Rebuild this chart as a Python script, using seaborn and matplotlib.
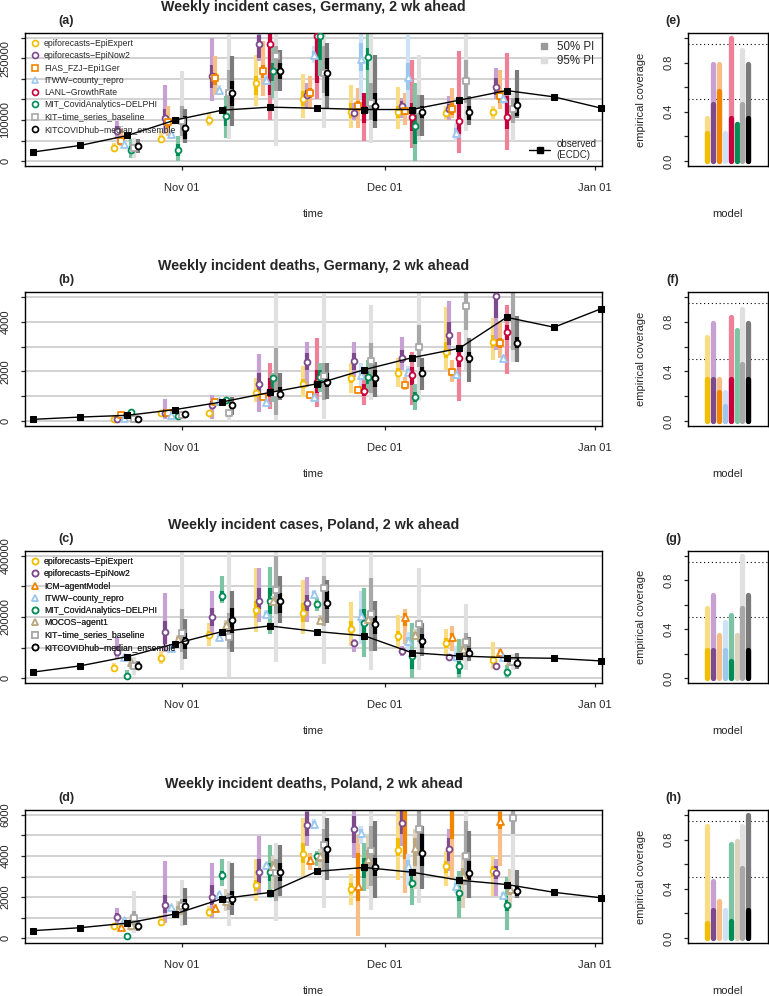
import numpy as np
import pandas as pd
import matplotlib
matplotlib.use("Agg")
import matplotlib.pyplot as plt
import matplotlib.dates as mdates
from matplotlib.lines import Line2D
import seaborn as sns

nan = np.nan

# Dates of observed weekly counts and of the forecast target weeks
obs_dates = pd.date_range("2020-10-10", "2021-01-02", freq="7D")
target_dates = pd.date_range("2020-10-24", "2020-12-19", freq="7D")

# Observed weekly incidence (ECDC)
obs_de_cases = [21900, 38000, 62400, 99700, 124000, 131300, 128800, 125600, 125600, 148300, 171800, 156400, 128800]
obs_de_deaths = [68, 160, 230, 460, 770, 1150, 1500, 2070, 2550, 2930, 4180, 3780, 4530]
obs_pl_cases = [19500, 40000, 70300, 112400, 152400, 170800, 152400, 138400, 83200, 72400, 67000, 64900, 56200]
obs_pl_deaths = [360, 505, 730, 1170, 1920, 2220, 3250, 3440, 3210, 2820, 2610, 2230, 1960]

models_de = ["epiforecasts−EpiExpert", "epiforecasts−EpiNow2", "FIAS_FZJ−Epi1Ger", "ITWW−county_repro",
             "LANL−GrowthRate", "MIT_CovidAnalytics−DELPHI", "KIT−time_series_baseline", "KITCOVIDhub−median_ensemble"]
models_pl = ["epiforecasts−EpiExpert", "epiforecasts−EpiNow2", "ICM−agentModel", "ITWW−county_repro",
             "MIT_CovidAnalytics−DELPHI", "MOCOS−agent1", "KIT−time_series_baseline", "KITCOVIDhub−median_ensemble"]

# Germany cases, thousands (rows = models_de, cols = target_dates)
de_cases_med = [[31, 54, 101, 190, 150, 120, 119, 117, 120],
                [73, 105, 207, 285, 162, 118, 135, 127, 181],
                [50, 95, 203, 219, 166, 135, 122, 128, 158],
                [42, 66, 173, 197, 259, 249, 204, 69, 154],
                [nan, nan, nan, 285, 305, 126, 108, 97, 107],
                [28, 26, 109, 219, 305, 253, 85, nan, nan],
                [32, 97, 166, 255, 215, 142, 122, 196, 126],
                [36, 81, 166, 219, 215, 134, 120, 119, 137]]
de_cases_lo50 = [[28, 50, 95, 162, 134, 105, 105, 110, 112],
                 [65, 87, 178, 251, 150, 110, 113, 118, 162],
                 [45, 81, 186, 203, 154, 122, 113, 113, 142],
                 [39, 62, 167, 191, 250, 219, 174, 61, 147],
                 [nan, nan, nan, 162, 190, 93, 73, 65, 77],
                 [20, 12, 85, 194, 247, 223, 41, nan, nan],
                 [24, 61, 126, 170, 166, 101, 61, 142, 93],
                 [27, 53, 134, 199, 158, 97, 105, 101, 109]]
de_cases_hi50 = [[36, 62, 108, 207, 170, 142, 135, 125, 128],
                 [85, 126, 235, 308, 174, 128, 146, 138, 203],
                 [57, 105, 215, 235, 178, 146, 134, 142, 174],
                 [46, 70, 179, 203, 268, 288, 239, 81, 161],
                 [nan, nan, nan, 330, 320, 166, 142, 150, 158],
                 [36, 41, 134, 239, 330, 276, 126, nan, nan],
                 [41, 134, 223, 280, 280, 190, 162, 247, 154],
                 [45, 109, 194, 239, 251, 166, 134, 134, 154]]
de_cases_lo95 = [[24, 45, 85, 134, 105, 81, 77, 101, 101],
                 [53, 65, 146, 243, 126, 101, 105, 101, 150],
                 [36, 61, 162, 158, 126, 81, 89, 105, 126],
                 [36, 58, 160, 185, 240, 150, 126, 49, 140],
                 [nan, nan, nan, 101, 150, 49, 32, 20, 28],
                 [8, 0, 57, 154, 207, 118, 0, nan, nan],
                 [8, 49, 53, 36, 81, 45, 49, 73, 49],
                 [20, 45, 85, 170, 126, 81, 61, 89, 105]]
de_cases_hi95 = [[45, 73, 118, 259, 211, 186, 181, 135, 134],
                 [97, 186, 300, 330, 190, 142, 154, 158, 227],
                 [77, 134, 255, 292, 207, 178, 166, 178, 223],
                 [50, 75, 185, 210, 280, 330, 308, 93, 168],
                 [nan, nan, nan, 340, 340, 166, 247, 267, 263],
                 [53, 61, 158, 284, 340, 330, 190, nan, nan],
                 [57, 219, 330, 330, 330, 330, 259, 312, 166],
                 [53, 126, 255, 271, 288, 259, 162, 158, 223]]

# Germany deaths
de_deaths_med = [[68, 320, 320, 1110, 1510, 1720, 1950, 2770, 3200],
                 [70, 320, 640, 1510, 2360, 2420, 2530, 3470, 5050],
                 [260, 320, 770, 970, 1040, 1240, 1470, 1990, 3130],
                 [120, 230, 800, 770, 970, 1850, 1990, 1890, 2550],
                 [nan, nan, nan, 1220, 1580, 1220, 1850, 2530, 3570],
                 [360, 190, 840, 1720, 1780, 1780, 970, nan, nan],
                 [70, 230, 320, 1080, 1810, 2420, 3000, 4620, 5500],
                 [95, 300, 640, 1080, 1580, 1720, 1950, 2530, 3160]]
de_deaths_lo50 = [[55, 300, 300, 1000, 1350, 1550, 1800, 2530, 2930],
                  [50, 230, 500, 1040, 2050, 2050, 2320, 3070, 4150],
                  [240, 300, 740, 930, 1000, 1180, 1390, 1850, 2950],
                  [100, 210, 770, 740, 940, 1700, 1900, 1800, 2480],
                  [nan, nan, nan, 970, 1110, 1000, 1450, 2190, 3270],
                  [330, 170, 800, 1240, 1380, 1500, 770, nan, nan],
                  [45, 200, 250, 230, 840, 1110, 2190, 3670, 2860],
                  [80, 270, 500, 970, 1380, 1380, 1780, 2320, 2930]]
de_deaths_hi50 = [[85, 345, 345, 1250, 1700, 1900, 2150, 3200, 3470],
                  [95, 500, 820, 1920, 2730, 2730, 2860, 4010, 5200],
                  [280, 345, 800, 1010, 1090, 1300, 1560, 2150, 3350],
                  [140, 255, 830, 800, 1010, 2050, 2100, 1990, 2620],
                  [nan, nan, nan, 1720, 2050, 1500, 2190, 2860, 3880],
                  [400, 215, 880, 1780, 2050, 2000, 1180, nan, nan],
                  [100, 270, 400, 2930, 2320, 3130, 3880, 5160, 5700],
                  [115, 330, 750, 1380, 1920, 2050, 2190, 2800, 3400]]
de_deaths_lo95 = [[40, 270, 270, 770, 970, 1110, 1380, 2050, 2460],
                  [30, 95, 95, 365, 1380, 1780, 2050, 2660, 2860],
                  [210, 270, 700, 880, 950, 1120, 1240, 1580, 2530],
                  [80, 190, 740, 700, 900, 1380, 1800, 1700, 2400],
                  [nan, nan, nan, 500, 570, 640, 640, 810, 1890],
                  [300, 150, 760, 770, 1180, 1180, 430, nan, nan],
                  [20, 150, 0, 30, 95, 840, 840, 2050, 2390],
                  [60, 230, 230, 840, 900, 970, 1240, 1580, 2390]]
de_deaths_hi95 = [[110, 380, 380, 1720, 2220, 2320, 2530, 4590, 4150],
                  [130, 905, 1040, 2700, 3200, 3200, 3380, 4850, 5400],
                  [310, 380, 850, 1080, 1150, 1380, 1780, 2460, 4050],
                  [170, 280, 870, 850, 1060, 2350, 2200, 2100, 2700],
                  [nan, nan, nan, 2350, 3340, 2050, 2800, 3600, 4690],
                  [430, 240, 920, 1920, 2320, 2460, 1510, nan, nan],
                  [150, 320, 430, 5400, 5100, 4690, 5400, 5400, 5400],
                  [150, 380, 970, 1920, 2320, 2390, 2530, 3340, 4220]]

# Poland cases, thousands (rows = models_pl)
pl_cases_med = [[33.5, 66, 142, 223, 214, 162, 138, 115, 59.5],
                [86.5, 152, 200, 254, 246, 114, 90, 68, 41],
                [nan, nan, nan, nan, nan, nan, 200, 133, 84],
                [68, 98, 136, 211, 276, 203, 122, 73.5, 68],
                [6.5, nan, 268, 254, 241, 182, 71, 41, 19.5],
                [52, 127, 174, 254, 190, 192, 142, 95, 57],
                [41, 149, 133, 290, 295, 209, 176, 117, 52],
                [41, 122, 189, 254, 246, 178, 122, 81, 50]]
pl_cases_lo50 = [[28, 58, 128, 198, 184, 144, 122, 100, 50],
                 [73, 111, 171, 225, 219, 104, 84, 64, 38],
                 [nan, nan, nan, nan, nan, nan, 171, 117, 78],
                 [64, 94, 131, 205, 268, 180, 110, 65, 64],
                 [3, nan, 252, 209, 230, 133, 30, 14, 10],
                 [42, 121, 167, 247, 183, 184, 134, 85, 51],
                 [30, 84, 95, 209, 171, 90, 117, 74, 40],
                 [30, 95, 149, 214, 225, 144, 100, 68, 41]]
pl_cases_hi50 = [[40, 75, 155, 252, 246, 187, 155, 130, 72],
                 [106, 187, 230, 295, 273, 122, 97, 73, 44],
                 [nan, nan, nan, nan, nan, nan, 214, 149, 90],
                 [72, 102, 141, 217, 284, 225, 135, 82, 72],
                 [12, nan, 284, 295, 252, 225, 90, 57, 30],
                 [60, 134, 181, 262, 198, 200, 150, 106, 64],
                 [52, 225, 214, 400, 333, 328, 187, 149, 65],
                 [52, 149, 230, 279, 284, 203, 144, 100, 68]]
pl_cases_lo95 = [[20, 46, 106, 151, 144, 106, 95, 74, 30],
                 [63, 84, 144, 184, 184, 84, 73, 60, 35],
                 [nan, nan, nan, nan, nan, nan, 111, 90, 68],
                 [60, 90, 126, 200, 262, 111, 86, 52, 60],
                 [0, nan, 246, 144, 219, 68, 0, 0, 0],
                 [30, 115, 160, 240, 175, 175, 125, 57, 45],
                 [9, 25, 3, 52, 46, 25, 25, 25, 25],
                 [25, 63, 86, 182, 182, 90, 73, 57, 30]]
pl_cases_hi95 = [[48, 90, 182, 360, 322, 249, 205, 160, 119],
                 [133, 279, 284, 360, 330, 128, 106, 79, 48],
                 [nan, nan, nan, nan, nan, nan, 227, 171, 95],
                 [76, 106, 146, 222, 290, 284, 151, 106, 76],
                 [25, nan, 333, 363, 263, 295, 179, 128, 43],
                 [68, 140, 190, 270, 205, 210, 160, 128, 70],
                 [68, 430, 430, 430, 430, 430, 360, 241, 79],
                 [57, 192, 284, 333, 322, 252, 182, 133, 81]]

# Poland deaths
pl_deaths_med = [[600, 780, 1260, 2610, 4100, 2400, 4290, 3510, 3260],
                 [1030, 1630, 2000, 3230, 5500, 5300, 5630, 4360, 3180],
                 [520, nan, 1470, nan, 3790, 2530, 6600, 6600, 5710],
                 [900, 1520, 2170, 3560, 5550, 5140, 3510, 2530, 2120],
                 [110, nan, 3070, 3230, 4000, 3420, 2690, 2200, 1630],
                 [650, 1390, 1790, 3510, 4000, 3830, 4400, 3020, 2370],
                 [980, 1550, 1880, 3180, 4520, 4240, 5300, 4000, 5840],
                 [570, 1550, 1920, 3230, 4360, 3440, 4160, 3150, 2280]]
pl_deaths_lo50 = [[560, 700, 1150, 2280, 3670, 2150, 4000, 3180, 3000],
                  [900, 1220, 1630, 2690, 4970, 4650, 5060, 3750, 2900],
                  [480, nan, 1400, nan, 3600, 1790, 3830, 4810, 5300],
                  [870, 1490, 2140, 3500, 5400, 4900, 3200, 2400, 2060],
                  [70, nan, 2850, 2770, 3800, 2940, 2450, 1790, 1300],
                  [500, 1200, 1600, 3200, 3700, 3400, 3510, 2600, 2100],
                  [650, 1200, 1390, 1790, 3260, 2530, 4000, 2610, 5060],
                  [480, 1300, 1630, 2770, 3670, 3020, 3510, 2850, 2040]]
pl_deaths_hi50 = [[650, 870, 1380, 2850, 4650, 2700, 4890, 3750, 3500],
                  [1200, 2120, 2610, 3830, 6120, 5950, 6200, 4890, 3500],
                  [570, nan, 1550, nan, 3950, 4160, 7000, 7000, 6120],
                  [930, 1560, 2210, 3620, 5700, 5300, 3800, 2700, 2180],
                  [170, nan, 3260, 3670, 4120, 3910, 3020, 2530, 2040],
                  [800, 1550, 2000, 3750, 4150, 4300, 4890, 3400, 2700],
                  [1300, 1900, 2200, 3830, 5300, 5460, 6500, 5710, 6500],
                  [700, 1880, 2280, 3670, 4890, 3910, 5060, 3750, 2530]]
pl_deaths_lo95 = [[500, 570, 980, 1790, 3020, 1630, 2850, 2530, 2040],
                  [730, 730, 980, 2200, 4490, 3910, 4490, 3260, 2040],
                  [420, nan, 1300, nan, 3340, 80, 2200, 2850, 3510],
                  [850, 1450, 2100, 3450, 5300, 4570, 2530, 2200, 2000],
                  [30, nan, 2530, 1960, 3510, 2280, 1630, 980, 410],
                  [330, 980, 1300, 2370, 3100, 2370, 2370, 1470, 1470],
                  [240, 570, 570, 820, 1470, 1390, 1710, 2040, 2530],
                  [330, 650, 1140, 2040, 2850, 1960, 2370, 1960, 1950]]
pl_deaths_hi95 = [[720, 1140, 1550, 3830, 5870, 3100, 6500, 4240, 4000],
                  [1470, 3750, 3640, 4970, 6500, 6500, 6500, 5300, 3830],
                  [620, nan, 1650, nan, 4160, 5060, 7000, 7000, 6500],
                  [950, 1600, 2250, 3680, 5790, 5460, 4080, 3020, 2250],
                  [250, nan, 3830, 4520, 4240, 4650, 3260, 3260, 2970],
                  [1060, 1790, 2370, 4000, 4320, 5060, 5300, 4160, 3380],
                  [2280, 2850, 3750, 4650, 6500, 6500, 6500, 6500, 6500],
                  [900, 2450, 3640, 4520, 5870, 5710, 5460, 5220, 3340]]

# Empirical coverage of the 95% and 50% intervals per model
cov95_de_cases = [0.35, 0.79, 0.79, 0.23, 1.00, 0.30, 0.90, 0.79]
cov50_de_cases = [0.23, 0.46, 0.57, 0.00, 0.35, 0.30, 0.46, 0.35]
cov95_de_deaths = [0.68, 0.79, 0.34, 0.23, 0.84, 0.73, 0.90, 0.79]
cov50_de_deaths = [0.34, 0.34, 0.23, 0.12, 0.34, 0.00, 0.46, 0.34]
cov95_pl_cases = [0.57, 0.68, 0.35, 0.46, 0.52, 0.35, 1.00, 0.68]
cov50_pl_cases = [0.23, 0.23, 0.00, 0.23, 0.14, 0.00, 0.57, 0.23]
cov95_pl_deaths = [0.91, 0.46, 0.30, 0.23, 0.76, 0.79, 0.91, 1.00]
cov50_pl_deaths = [0.12, 0.23, 0.00, 0.00, 0.14, 0.00, 0.57, 0.23]

# colour for 50% PI / marker, colour for 95% PI, marker
style = {
    "epiforecasts−EpiExpert": ("#F2BE00", "#F9DC86", "o"),
    "epiforecasts−EpiNow2": ("#7E4A8E", "#C7A1D4", "o"),
    "FIAS_FZJ−Epi1Ger": ("#F28500", "#F8BE85", "s"),
    "ICM−agentModel": ("#F28500", "#F8BE85", "^"),
    "ITWW−county_repro": ("#9CC8EE", "#CDE2F6", "^"),
    "LANL−GrowthRate": ("#C8003C", "#EE8198", "o"),
    "MIT_CovidAnalytics−DELPHI": ("#008C55", "#7CC4A3", "o"),
    "MOCOS−agent1": ("#BBA77F", "#DDD3BD", "^"),
    "KIT−time_series_baseline": ("#A8A8A8", "#E0E0E0", "s"),
    "KITCOVIDhub−median_ensemble": ("#000000", "#7A7A7A", "o"),
}
msize = {"o": 18, "s": 16, "^": 25}

sns.set_style("white")
plt.rcParams["font.family"] = ["Liberation Sans", "DejaVu Sans"]
plt.rcParams["axes.linewidth"] = 1.0

W, H = 769, 996
fig = plt.figure(figsize=(W / 100, H / 100), dpi=100)


def px_axes(left, top, right, bottom):
    return fig.add_axes([left / W, 1 - bottom / H, (right - left) / W, (bottom - top) / H])


def ftext(x, y, s, **kw):
    fig.text(x / W, 1 - y / H, s, ha="center", va="center", **kw)


xnum = lambda d: mdates.date2num(pd.DatetimeIndex(d).to_pydatetime())


def forecast_panel(ax, models, med, lo50, hi50, lo95, hi95, obs, scale, ymax, step, labels):
    yt = np.arange(0, ymax + 1, step)
    for v in yt:
        ax.axhline(v, color="#C6C6C6", lw=1.1, zorder=0)
    for i, m in enumerate(models):
        col, light, mk = style[m]
        x = xnum(target_dates) + 0.5 * (i - 4)
        v = np.array(med[i], float) * scale
        ok = ~np.isnan(v)
        ax.vlines(x[ok], (np.array(lo95[i], float) * scale)[ok], (np.array(hi95[i], float) * scale)[ok],
                  colors=light, lw=3, zorder=2)
        ax.vlines(x[ok], (np.array(lo50[i], float) * scale)[ok], (np.array(hi50[i], float) * scale)[ok],
                  colors=col, lw=3, zorder=2)
        df = pd.DataFrame({"date": x[ok], "value": v[ok]})
        sns.scatterplot(data=df, x="date", y="value", marker=mk, s=msize[mk], color="white",
                        edgecolor=col, linewidth=1.3, ax=ax, zorder=3)
    obs_df = pd.DataFrame({"date": xnum(obs_dates), "value": obs})
    sns.lineplot(data=obs_df, x="date", y="value", color="black", lw=1, marker="s", markersize=4.5,
                 markeredgecolor="black", ax=ax, zorder=4, clip_on=False)
    ax.set_xlim(xnum(["2020-10-08 21:00"])[0], xnum(["2021-01-02 02:00"])[0])
    ax.set_ylim(-0.04 * ymax, 1.04 * ymax)
    ax.set_xticks(xnum(["2020-11-01", "2020-12-01", "2021-01-01"]))
    ax.set_xticklabels(["Nov 01", "Dec 01", "Jan 01"])
    ax.set_yticks(yt)
    ax.set_yticklabels([str(int(t)) if t in labels else "" for t in yt])
    ax.set_xlabel("")
    ax.set_ylabel("")
    ax.tick_params(axis="both", length=3, width=0.9, labelsize=8, direction="out", left=True, bottom=True)
    ax.tick_params(axis="x", pad=9)
    ax.tick_params(axis="y", pad=7.5, labelrotation=90)
    for lab in ax.get_yticklabels():
        lab.set_va("center")
    for s in ax.spines.values():
        s.set_color("black")


def coverage_panel(ax, models, cov95, cov50):
    for i, m in enumerate(models):
        col, light, mk = style[m]
        ax.vlines(i + 1, 0, max(cov95[i], 0.003), colors=light, lw=3.8, capstyle="round", zorder=2)
        ax.vlines(i + 1, 0, max(cov50[i], 0.003), colors=col, lw=3.8, capstyle="round", zorder=3)
    for h in [0.5, 0.95]:
        ax.axhline(h, color="black", lw=0.8, ls=(0, (1, 2.5)), zorder=1)
    ax.set_xlim(-2.35, 11.4)
    ax.set_ylim(-0.04, 1.04)
    ax.set_xticks([])
    ax.set_yticks([0, 0.2, 0.4, 0.6, 0.8, 1.0])
    ax.set_yticklabels(["0.0", "", "0.4", "", "0.8", ""])
    ax.tick_params(axis="y", length=3, width=0.9, labelsize=8, pad=7.5, labelrotation=90, left=True)
    for lab in ax.get_yticklabels():
        lab.set_va("center")
    for s in ax.spines.values():
        s.set_color("black")


def model_legend(ax, models):
    handles = []
    for m in models:
        col, light, mk = style[m]
        handles.append(Line2D([], [], ls="", marker=mk, ms=4.3 if mk != "^" else 5,
                              mfc="white", mec=col, mew=1.2, label=m))
    leg = ax.legend(handles=handles, loc="upper left", bbox_to_anchor=(0.0, 1.0), frameon=False,
                    fontsize=6.2, handlelength=1.0, handletextpad=0.5, labelspacing=0.38,
                    borderaxespad=0.4, borderpad=0.3)
    ax.add_artist(leg)


tops = [33, 292, 551, 810]
bottoms = [166, 426, 683, 943]
titles = ["Weekly incident cases, Germany, 2 wk ahead", "Weekly incident deaths, Germany, 2 wk ahead",
          "Weekly incident cases, Poland, 2 wk ahead", "Weekly incident deaths, Poland, 2 wk ahead"]

panels = [
    (models_de, de_cases_med, de_cases_lo50, de_cases_hi50, de_cases_lo95, de_cases_hi95, obs_de_cases,
     1000, 300000, 50000, [0, 100000, 250000], cov95_de_cases, cov50_de_cases),
    (models_de, de_deaths_med, de_deaths_lo50, de_deaths_hi50, de_deaths_lo95, de_deaths_hi95, obs_de_deaths,
     1, 5000, 1000, [0, 2000, 4000], cov95_de_deaths, cov50_de_deaths),
    (models_pl, pl_cases_med, pl_cases_lo50, pl_cases_hi50, pl_cases_lo95, pl_cases_hi95, obs_pl_cases,
     1000, 400000, 100000, [0, 200000, 400000], cov95_pl_cases, cov50_pl_cases),
    (models_pl, pl_deaths_med, pl_deaths_lo50, pl_deaths_hi50, pl_deaths_lo95, pl_deaths_hi95, obs_pl_deaths,
     1, 6000, 1000, [0, 2000, 4000, 6000], cov95_pl_deaths, cov50_pl_deaths),
]

for k, p in enumerate(panels):
    models, med, lo50, hi50, lo95, hi95, obs, scale, ymax, step, labels, c95, c50 = p
    top, bot = tops[k], bottoms[k]
    ax = px_axes(25, top, 602, bot)
    forecast_panel(ax, models, med, lo50, hi50, lo95, hi95, obs, scale, ymax, step, labels)
    cax = px_axes(688, top, 768, bot)
    coverage_panel(cax, models, c95, c50)

    if k in (0, 2):
        model_legend(ax, models)
    if k == 0:
        pi = [Line2D([], [], ls="", marker="s", ms=5, color="#9A9A9A", label="50% PI"),
              Line2D([], [], ls="", marker="s", ms=5, color="#DCDCDC", label="95% PI")]
        leg2 = ax.legend(handles=pi, loc="upper right", frameon=False, fontsize=8.3,
                         handlelength=1.0, handletextpad=0.6, labelspacing=0.15, borderaxespad=0.3)
        ax.add_artist(leg2)
        ob = [Line2D([], [], color="black", lw=1, marker="s", ms=4, label="observed\n(ECDC)")]
        ax.legend(handles=ob, loc="lower right", frameon=False, fontsize=7, handlelength=2.2,
                  handletextpad=0.6, borderaxespad=0.2)

    ftext(313.5, top - 26, titles[k], fontsize=10.3, fontweight="bold")
    ftext(66, top - 12, "(" + "abcd"[k] + ")", fontsize=9, fontweight="bold")
    ftext(673, top - 12, "(" + "efgh"[k] + ")", fontsize=9, fontweight="bold")
    ftext(313.5, bot + 48, "time", fontsize=8)
    ftext(728, bot + 48, "model", fontsize=8)
    ftext(641, (top + bot) / 2, "empirical coverage", fontsize=8, rotation=90)

fig.savefig("out.png", dpi=100)
